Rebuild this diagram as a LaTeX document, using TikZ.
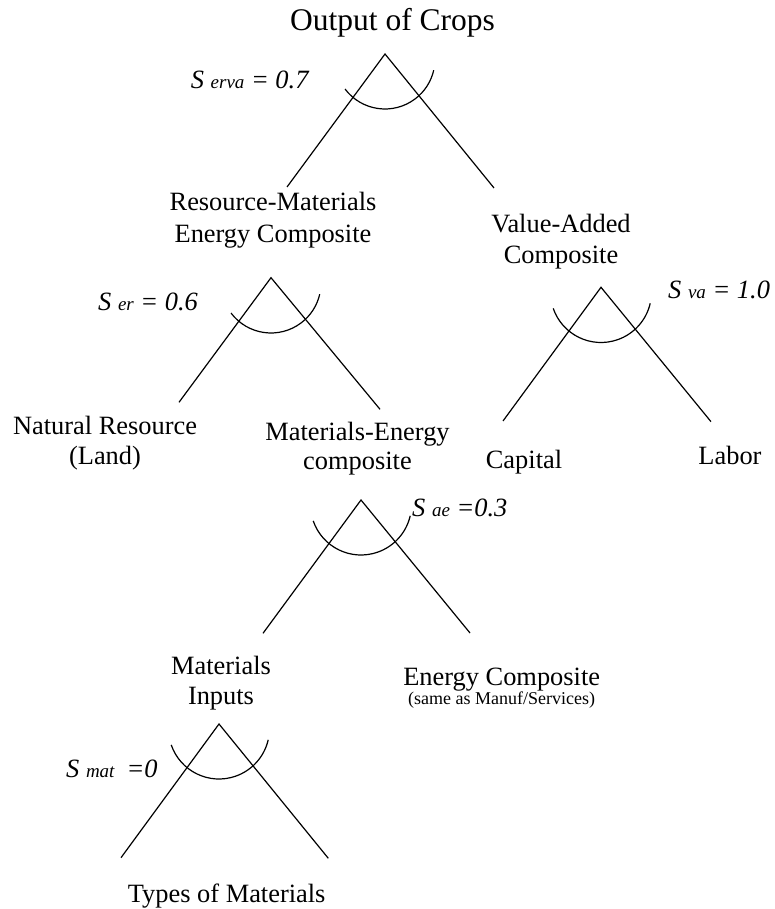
\documentclass[tikz,border=0pt]{standalone}
\usepackage{fontspec}
\setmainfont{Liberation Serif}
\begin{document}
\begin{tikzpicture}[x=1pt,y=1pt,
  lbl/.style={inner sep=0pt,anchor=base,align=center,font=\fontsize{26.4}{30.5}\selectfont},
  elas/.style={inner sep=0pt,anchor=base west,font=\fontsize{26.4}{30}\selectfont\itshape},
  leg/.style={line width=1.2pt},
  cesarc/.style={line width=1.2pt}]
\useasboundingbox (0,0) rectangle (775,909);
\newcommand{\sub}[1]{{\fontsize{19}{19}\selectfont #1}}
% labels (multi-line nodes anchored at the baseline of their last line)
\node[lbl,font=\fontsize{31.5}{36}\selectfont] (out) at (392.5,878.3) {Output of Crops};
\node[lbl,font=\fontsize{26.4}{32}\selectfont] (rme) at (273,666) {Resource-Materials\\Energy Composite};
\node[lbl] (vac) at (561,645.7) {Value-Added\\Composite};
\node[lbl] (nr) at (105,444) {Natural Resource\\(Land)};
\node[lbl,font=\fontsize{26.4}{29}\selectfont] (mec) at (357.5,439) {Materials-Energy\\composite};
\node[lbl] (cap) at (524,440.7) {Capital};
\node[lbl] (lab) at (730,444.7) {Labor};
\node[lbl] (mi) at (221,204) {Materials\\Inputs};
\node[lbl] (ec) at (501.7,223) {Energy Composite};
\node[lbl,font=\fontsize{18}{20}\selectfont] (ecs) at (501.7,204) {(same as Manuf/Services)};
\node[lbl] (tm) at (226.7,6) {Types of Materials};
% elasticities
\node[elas] (s1) at (190.7,820.7) {S \sub{erva} = 0.7};
\node[elas] (s2) at (98,598.3) {S \sub{er} = 0.6};
\node[elas] (s3) at (668,610.7) {S \sub{va} = 1.0};
\node[elas] (s4) at (412,392) {S \sub{ae} =0.3};
\node[elas] (s5) at (66,131.7) {S \sub{mat}\hspace{12pt}=0};
% tree 1
\coordinate (t1) at (385,855);
\coordinate (t1l) at (287,722);
\coordinate (t1r) at (494,721);
\draw[leg] (t1l) -- (t1) -- (t1r);
\draw[cesarc] (385,850) ++(217:50) arc[start angle=217,end angle=347,radius=50];
% tree 2
\coordinate (t2) at (271,631.3);
\coordinate (t2l) at (179,506.7);
\coordinate (t2r) at (380,499.7);
\draw[leg] (t2l) -- (t2) -- (t2r);
\draw[cesarc] (271,626) ++(217:50) arc[start angle=217,end angle=347,radius=50];
% tree 3
\coordinate (t3) at (601,621.7);
\coordinate (t3l) at (503,488);
\coordinate (t3r) at (711,487.3);
\draw[leg] (t3l) -- (t3) -- (t3r);
\draw[cesarc] (601,617) ++(199:50.5) arc[start angle=199,end angle=347,radius=50.5];
% tree 4
\coordinate (t4) at (361,409);
\coordinate (t4l) at (263,275.7);
\coordinate (t4r) at (470,276);
\draw[leg] (t4l) -- (t4) -- (t4r);
\draw[cesarc] (361,404.5) ++(199:50.5) arc[start angle=199,end angle=347,radius=50.5];
% tree 5
\coordinate (t5) at (219,185);
\coordinate (t5l) at (121,51.3);
\coordinate (t5r) at (328.3,50.7);
\draw[leg] (t5l) -- (t5) -- (t5r);
\draw[cesarc] (219,180.5) ++(199:50.5) arc[start angle=199,end angle=347,radius=50.5];
\end{tikzpicture}
\end{document}
